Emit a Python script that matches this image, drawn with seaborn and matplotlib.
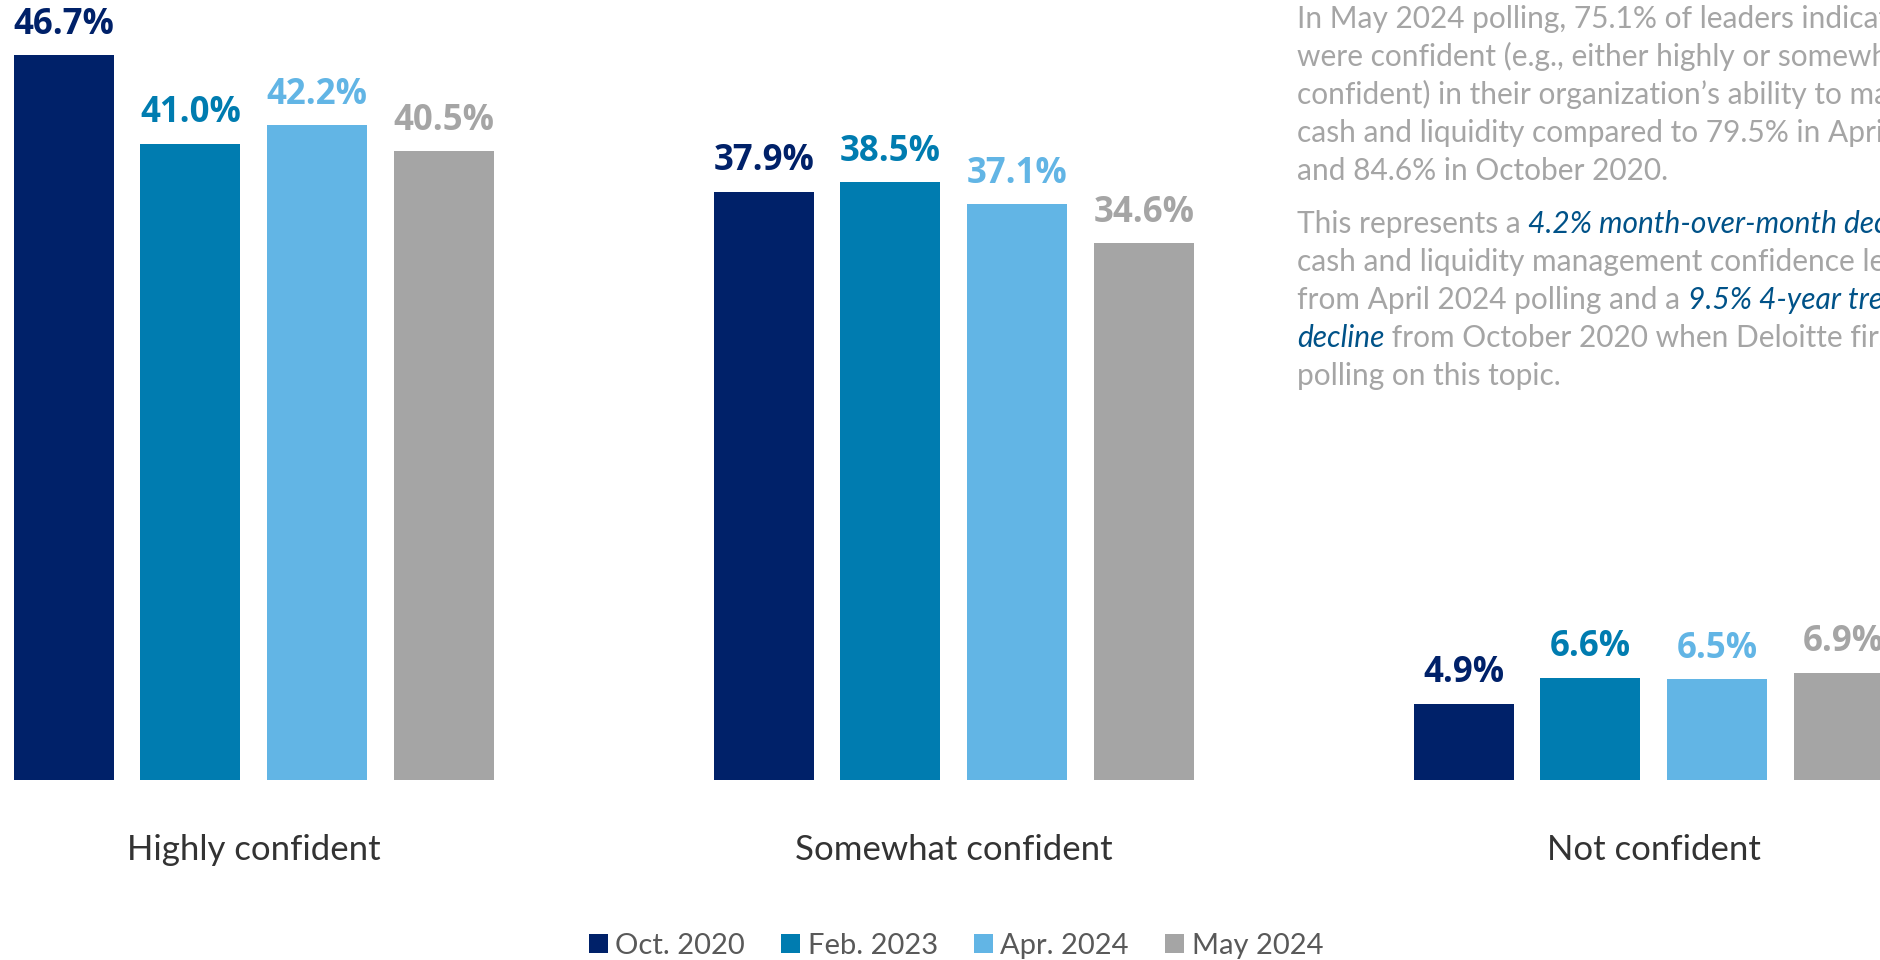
import matplotlib
matplotlib.use("Agg")
import matplotlib.pyplot as plt
import pandas as pd
import seaborn as sns

# ---- data -------------------------------------------------------------
categories = ["Highly confident", "Somewhat confident", "Not confident"]
periods = ["Oct. 2020", "Feb. 2023", "Apr. 2024", "May 2024"]
oct_2020 = [46.7, 37.9, 4.9]
feb_2023 = [41.0, 38.5, 6.6]
apr_2024 = [42.2, 37.1, 6.5]
may_2024 = [40.5, 34.6, 6.9]
period_colors = ["#002169", "#007CB0", "#62B5E5", "#A5A5A5"]

# commentary, one entry per line; True marks the emphasised runs
paragraph_one = [
    [("In May 2024 polling, 75.1% of leaders indicated they", False)],
    [("were confident (e.g., either highly or somewhat", False)],
    [("confident) in their organization\u2019s ability to manage", False)],
    [("cash and liquidity compared to 79.5% in April 2024", False)],
    [("and 84.6% in October 2020.", False)],
]
paragraph_two = [
    [("This represents a ", False), ("4.2% month-over-month decline", True), (" in", False)],
    [("cash and liquidity management confidence levels", False)],
    [("from April 2024 polling and a ", False), ("9.5% 4-year trend", True)],
    [("decline", True), (" from October 2020 when Deloitte first began", False)],
    [("polling on this topic.", False)],
]

# ---- styling ----------------------------------------------------------
sns.set_style("white")
plt.rcParams["font.family"] = ["Lato", "DejaVu Sans"]

W, H = 1880, 960
fig = plt.figure(figsize=(W / 100, H / 100), dpi=100)
ax = fig.add_axes([0, 180 / H, 1, 780 / H])

df = pd.DataFrame({
    "category": categories * 4,
    "period": [p for p in periods for _ in categories],
    "value": oct_2020 + feb_2023 + apr_2024 + may_2024,
})

sns.barplot(
    data=df, x="category", y="value", hue="period",
    order=categories, hue_order=periods, palette=period_colors,
    width=0.724, gap=0.21, saturation=1, linewidth=0, ax=ax,
)

ax.set_xlim(-253.7 / 700, (W - 253.7) / 700)
ax.set_ylim(0, 780 / 15.52)
sns.despine(ax=ax, left=True, bottom=True, top=True, right=True)
ax.set_yticks([])
ax.set_xlabel("")
ax.set_ylabel("")
ax.set_xticks(range(len(categories)), categories)
ax.tick_params(axis="x", length=0, pad=39, labelsize=25, labelcolor="#333333")

for container, color in zip(ax.containers, period_colors):
    ax.bar_label(
        container, fmt="{:.1f}%", padding=9, color=color,
        fontsize=25, fontweight="bold", family=["Open Sans", "DejaVu Sans"],
    )

handles, labels = ax.get_legend_handles_labels()
ax.get_legend().remove()
fig.legend(
    handles, labels, loc="center", bbox_to_anchor=(956 / W, 1 - 946 / H),
    ncol=4, frameon=False, fontsize=21, labelcolor="#595959",
    handlelength=0.65, handleheight=0.65, handletextpad=0.25,
    columnspacing=1.25,
)

# ---- commentary block -------------------------------------------------
renderer = fig.canvas.get_renderer()
x0 = 1297
baselines = [28, 66, 104, 142, 180, 233, 271, 309, 347, 385]
for baseline, line in zip(baselines, paragraph_one + paragraph_two):
    x = x0
    for text, emph in line:
        t = fig.text(
            x / W, 1 - baseline / H, text, va="baseline", ha="left",
            fontsize=21.5, color="#005288" if emph else "#A5A5A5",
            style="italic" if emph else "normal",
        )
        x = t.get_window_extent(renderer).x1

fig.savefig("out.png", dpi=100)
